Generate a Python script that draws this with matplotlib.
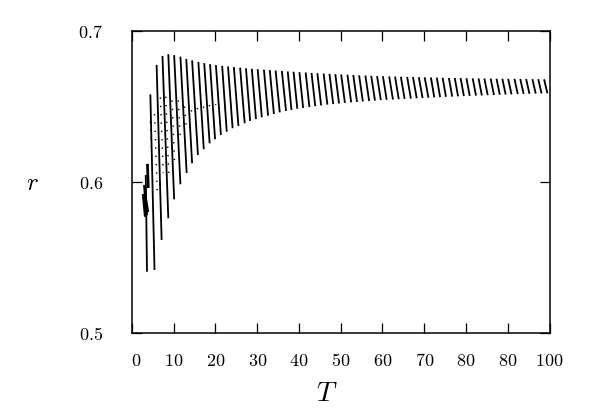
import matplotlib
matplotlib.use('Agg')
import matplotlib.pyplot as plt
import matplotlib.transforms as mtransforms

plt.rcParams['mathtext.fontset'] = 'cm'

# slanted solid segments: x and r at the upper end, x and r at the lower end
seg_T_hi = [3.3, 4.4, 5.9, 7.3, 8.7, 10.1, 11.6, 13.0, 14.4, 15.9, 17.3, 18.7, 20.1,
            21.6, 23.0, 24.4, 25.9, 27.3, 28.7, 30.1, 31.6, 33.0, 34.4, 35.9, 37.3,
            38.7, 40.1, 41.6, 43.0, 44.4, 45.9, 47.3, 48.7, 50.1, 51.6, 53.0, 54.4,
            55.9, 57.3, 58.7, 60.1, 61.6, 63.0, 64.4, 65.9, 67.3, 68.7, 70.1, 71.6,
            73.0, 74.4, 75.9, 77.3, 78.7, 80.1, 81.6, 83.0, 84.4, 85.9, 87.3, 88.7,
            90.1, 91.6, 93.0, 94.4, 95.9, 97.3, 98.7]
seg_T_lo = [3.6, 5.4, 7.1, 8.7, 10.1, 11.6, 13.1, 14.4, 15.8, 17.2, 18.6, 19.9, 21.3,
            22.7, 24.1, 25.5, 27.0, 28.3, 29.7, 31.1, 32.6, 34.0, 35.4, 36.9, 38.2,
            39.6, 41.0, 42.5, 43.9, 45.3, 46.8, 48.2, 49.6, 51.0, 52.5, 53.9, 55.3,
            56.8, 58.2, 59.6, 61.0, 62.5, 63.9, 65.3, 66.8, 68.2, 69.6, 71.0, 72.4,
            73.8, 75.2, 76.7, 78.1, 79.5, 80.9, 82.4, 83.8, 85.2, 86.7, 88.1, 89.5,
            90.9, 92.4, 93.8, 95.2, 96.7, 98.1, 99.5]
seg_r_hi = [0.6046, 0.658, 0.6775, 0.6834, 0.6846, 0.684, 0.683, 0.6815, 0.6805, 0.6795,
            0.6787, 0.678, 0.6774, 0.6769, 0.6765, 0.6761, 0.6757, 0.6753, 0.675, 0.6747,
            0.6744, 0.6741, 0.6738, 0.6735, 0.6732, 0.673, 0.6727, 0.6725, 0.6722, 0.672,
            0.6718, 0.6716, 0.6714, 0.6712, 0.671, 0.6708, 0.6706, 0.6705, 0.6703, 0.6701,
            0.67, 0.6699, 0.6698, 0.6697, 0.6696, 0.6695, 0.6694, 0.6693, 0.6692, 0.6691,
            0.669, 0.6689, 0.6689, 0.6688, 0.6687, 0.6686, 0.6686, 0.6685, 0.6685, 0.6684,
            0.6684, 0.6683, 0.6683, 0.6682, 0.6682, 0.6681, 0.6681, 0.668]
seg_r_lo = [0.5406, 0.5417, 0.5616, 0.576, 0.5885, 0.5985, 0.606, 0.6124, 0.6179, 0.6217,
            0.6256, 0.6283, 0.6311, 0.6333, 0.6356, 0.6371, 0.6389, 0.6404, 0.6417, 0.6428,
            0.6439, 0.645, 0.6461, 0.647, 0.6477, 0.6485, 0.649, 0.6496, 0.6502, 0.6507,
            0.6512, 0.6516, 0.652, 0.6524, 0.6527, 0.653, 0.6533, 0.6536, 0.6539, 0.6542,
            0.6544, 0.6546, 0.6548, 0.655, 0.6552, 0.6554, 0.6556, 0.6558, 0.656, 0.6562,
            0.6564, 0.6565, 0.6567, 0.6569, 0.657, 0.6572, 0.6573, 0.6575, 0.6576, 0.6578,
            0.6579, 0.658, 0.6582, 0.6583, 0.6584, 0.6585, 0.6586, 0.6587]

# dense cluster near T ~ 3
blob_T_hi = [2.7, 3.0, 3.2, 3.7]
blob_T_lo = [3.2, 3.5, 3.8, 3.9]
blob_r_hi = [0.592, 0.598, 0.590, 0.612]
blob_r_lo = [0.577, 0.578, 0.580, 0.596]

# sparse dotted segments for small T
dot_T_hi = [4.4, 5.4, 6.8, 8.1, 9.6, 11.1, 12.6, 14.2, 15.6, 17.1, 18.5, 20.0]
dot_T_lo = [4.8, 6.1, 7.5, 8.8, 10.2, 11.6, 13.0, 14.4, 15.8, 17.2, 18.6, 20.1]
dot_r_hi = [0.640, 0.645, 0.656, 0.6565, 0.654, 0.654, 0.650, 0.6475, 0.649, 0.650, 0.651, 0.6515]
dot_r_lo = [0.6125, 0.590, 0.606, 0.606, 0.6126, 0.628, 0.6366, 0.6455, 0.6475, 0.649, 0.650, 0.651]

x_ticks = [0, 10, 20, 30, 40, 50, 60, 70, 80, 90, 100]
x_labels = ['0', '10', '20', '30', '40', '50', '60', '70', '80', '80', '100']
y_ticks = [0.5, 0.6, 0.7]
y_labels = ['0.5', '0.6', '0.7']

fig = plt.figure(figsize=(5.98, 4.19), dpi=100)
ax = fig.add_axes([0.2207, 0.2053, 0.6982, 0.7208])

for x0, x1, y0, y1 in zip(seg_T_hi, seg_T_lo, seg_r_hi, seg_r_lo):
    ax.plot([x0, x1], [y0, y1], color='black', lw=1.3, solid_capstyle='butt')

for x0, x1, y0, y1 in zip(blob_T_hi, blob_T_lo, blob_r_hi, blob_r_lo):
    ax.plot([x0, x1], [y0, y1], color='black', lw=2.0, solid_capstyle='butt')

for x0, x1, y0, y1 in zip(dot_T_hi, dot_T_lo, dot_r_hi, dot_r_lo):
    ax.plot([x0, x1], [y0, y1], color='black', lw=1.0, linestyle=(0, (1, 5)))

ax.set_xlim(0, 100)
ax.set_ylim(0.5, 0.7)
ax.set_xticks(x_ticks)
ax.set_xticklabels(['$%s$' % s for s in x_labels], fontsize=13)
ax.set_yticks(y_ticks)
ax.set_yticklabels(['$%s$' % s for s in y_labels], fontsize=13)
ax.tick_params(direction='in', length=7.2, width=0.9, top=True, right=True)
ax.tick_params(axis='x', pad=14)
ax.tick_params(axis='y', pad=21)
for sp in ax.spines.values():
    sp.set_linewidth(1.1)

# the "0" label sits a little right of the axis corner
lbl0 = ax.get_xticklabels()[0]
lbl0.set_transform(lbl0.get_transform() + mtransforms.ScaledTranslation(4 / 100, 0, fig.dpi_scale_trans))

fig.text(32 / 598, 1 - 183 / 419, '$r$', fontsize=18, ha='center', va='center')
fig.text(327 / 598, 1 - 393 / 419, '$T$', fontsize=20, ha='center', va='center')

fig.savefig('out.png', dpi=100)
